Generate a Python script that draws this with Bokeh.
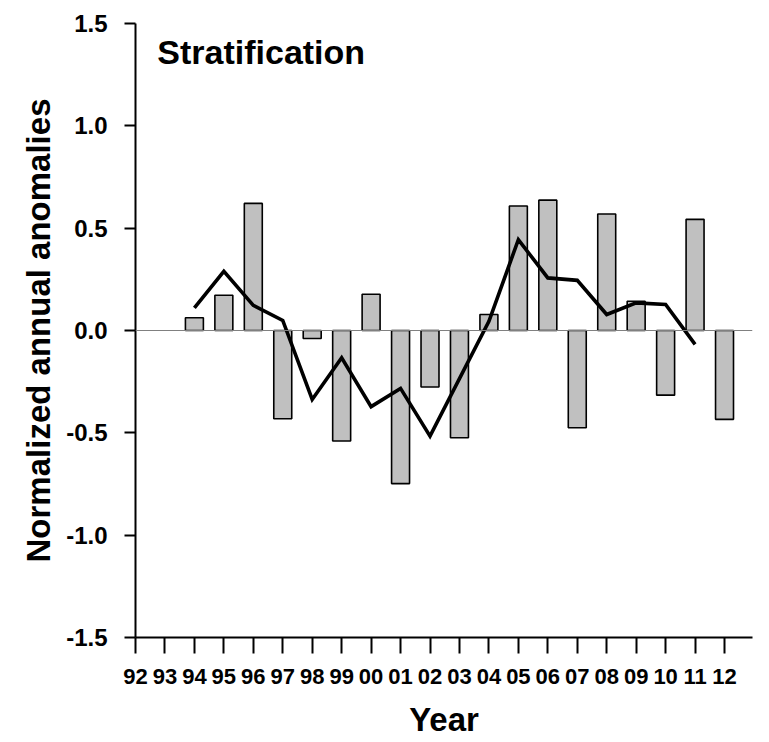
from bokeh.plotting import figure
from bokeh.models import Range1d, FixedTicker, Span, Label, ColumnDataSource
from bokeh.embed import file_html
from bokeh.resources import INLINE

# ---- data ----
year_labels = ["92", "93", "94", "95", "96", "97", "98", "99", "00", "01", "02",
               "03", "04", "05", "06", "07", "08", "09", "10", "11", "12"]
bar_years = ["94", "95", "96", "97", "98", "99", "00", "01", "02", "03", "04",
             "05", "06", "07", "08", "09", "10", "11", "12"]
bar_values = [0.062, 0.172, 0.621, -0.431, -0.039, -0.540, 0.177, -0.748, -0.276,
              -0.524, 0.078, 0.608, 0.637, -0.475, 0.569, 0.143, -0.316, 0.543, -0.434]
line_years = ["94", "95", "96", "97", "98", "99", "00", "01", "02", "03", "04",
              "05", "06", "07", "08", "09", "10", "11"]
line_values = [0.111, 0.289, 0.123, 0.049, -0.337, -0.133, -0.372, -0.283, -0.516,
               -0.235, 0.045, 0.444, 0.257, 0.245, 0.078, 0.135, 0.127, -0.068]
y_ticks = [-1.5, -1.0, -0.5, 0.0, 0.5, 1.0, 1.5]

idx = {lab: i for i, lab in enumerate(year_labels)}
bar_src = ColumnDataSource(dict(x=[idx[y] for y in bar_years], top=bar_values))
line_src = ColumnDataSource(dict(x=[idx[y] for y in line_years], y=line_values))

FONT = "Liberation Sans"

p = figure(width=762, height=740, output_backend="svg", toolbar_location=None,
           x_range=Range1d(0, 20.95), y_range=Range1d(-1.5, 1.5),
           min_border_left=135, min_border_right=10, min_border_top=23,
           min_border_bottom=102)
p.outline_line_color = None
p.xgrid.visible = False
p.ygrid.visible = False
p.background_fill_color = "white"
p.border_fill_color = "white"

p.add_layout(Span(location=0, dimension="width", line_color="#808080", line_width=1))

p.vbar(x="x", top="top", bottom=0, width=0.61, source=bar_src,
       fill_color="#c0c0c0", line_color="black", line_width=1.6)
p.line(x="x", y="y", source=line_src, line_color="black", line_width=3.6,
       line_join="miter")

# axes
xa = p.xaxis[0]
xa.ticker = FixedTicker(ticks=list(range(len(year_labels))))
xa.major_label_overrides = {i: lab for i, lab in enumerate(year_labels)}
xa.minor_tick_line_color = None
xa.major_tick_in = 0
xa.major_tick_out = 16
xa.major_tick_line_width = 2
xa.axis_line_width = 2
xa.major_label_text_font = FONT
xa.major_label_text_font_style = "bold"
xa.major_label_text_font_size = "22px"
xa.major_label_text_color = "black"
xa.major_label_standoff = 15
xa.axis_label = "Year"
xa.axis_label_text_font = FONT
xa.axis_label_text_font_style = "bold"
xa.axis_label_text_font_size = "33px"
xa.axis_label_text_color = "black"
xa.axis_label_standoff = 14

ya = p.yaxis[0]
ya.ticker = FixedTicker(ticks=y_ticks)
ya.major_label_overrides = {t: f"{t:.1f}" for t in y_ticks}
ya.minor_tick_line_color = None
ya.major_tick_in = 0
ya.major_tick_out = 11
ya.major_tick_line_width = 2
ya.axis_line_width = 2
ya.major_label_text_font = FONT
ya.major_label_text_font_style = "bold"
ya.major_label_text_font_size = "24px"
ya.major_label_text_color = "black"
ya.major_label_standoff = 17
ya.axis_label = "Normalized annual anomalies"
ya.axis_label_text_font = FONT
ya.axis_label_text_font_style = "bold"
ya.axis_label_text_font_size = "33px"
ya.axis_label_text_color = "black"
ya.axis_label_standoff = 6

p.add_layout(Label(x=0.74, y=1.36, text="Stratification", text_font=FONT,
                   text_font_style="bold", text_font_size="34px",
                   text_color="black", text_baseline="alphabetic"))

open("out.html", "w").write(file_html(p, INLINE))
